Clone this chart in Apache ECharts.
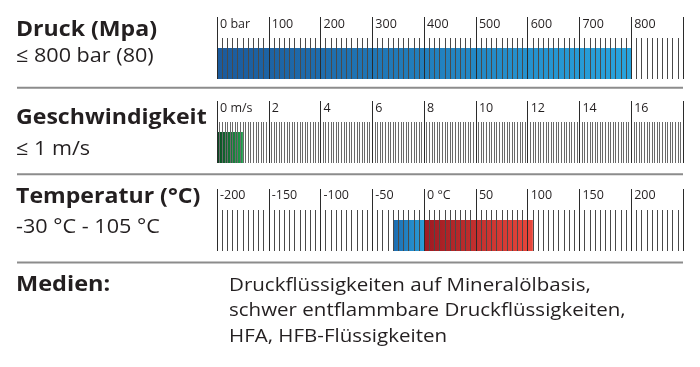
<!DOCTYPE html>
<html><head><meta charset="utf-8">
<script src="https://cdn.jsdelivr.net/npm/echarts@6/dist/echarts.min.js"></script>
<style>html,body{margin:0;padding:0;background:#fff}#c{width:700px;height:367px}</style>
</head><body><div id="c"></div><script>
const titles = ['Druck (Mpa)', 'Geschwindigkeit', 'Temperatur (°C)'];
const subtitles = ['≤ 800 bar (80)', '≤ 1 m/s', '-30 °C - 105 °C'];
const axisMin = [0, 0, -200];
const axisMax = [900, 18, 250];
const axisStep = [100, 2, 50];
const minorSplits = [10, 20, 10];
const zeroLabels = ['0 bar', '0 m/s', '0 °C'];
const pressureBar = [800];
const speedBar = [1];
const tempColdBar = [-30];
const tempHotBar = [105];
const mediaLabel = 'Medien:';
const mediaLines = ['Druckflüssigkeiten auf Mineralölbasis,', 'schwer entflammbare Druckflüssigkeiten,', 'HFA, HFB-Flüssigkeiten'];

const FONT = '"Open Sans", "Noto Sans", sans-serif';
const TXT = '#231f20';
const gridTops = [17, 101, 189];
const grids = gridTops.map(t => ({left: 217, width: 466, top: t, height: 62}));
const labelMargins = [54.5, 55, 55.5];
const minorColors = ['#4a4a4a', '#6a6a6a', '#4a4a4a'];
const xAxes = axisMin.map((mn, i) => ({
  type: 'value', gridIndex: i, min: mn, max: axisMax[i], interval: axisStep[i],
  position: 'bottom', z: 5,
  axisLine: {show: false},
  splitLine: {show: false}, minorSplitLine: {show: false},
  axisTick: {show: true, inside: true, length: 62, lineStyle: {color: '#2b2b2b', width: 1}},
  minorTick: {show: true, splitNumber: minorSplits[i], length: 41, lineStyle: {color: minorColors[i], width: 1}},
  axisLabel: {
    inside: true, margin: labelMargins[i], align: 'left', verticalAlign: 'middle', padding: [0, 0, 0, 3],
    fontSize: 12.5, fontFamily: FONT, color: TXT, showMaxLabel: false, showMinLabel: true,
    formatter: v => (v === 0 ? zeroLabels[i] : String(v))
  }
}));
const yAxes = axisMin.map((_, i) => ({type: 'category', gridIndex: i, data: ['bar', 'space'], show: false}));
const grad = (a, b) => new echarts.graphic.LinearGradient(0, 0, 1, 0, [{offset: 0, color: a}, {offset: 1, color: b}]);

const series = [
  {type: 'bar', xAxisIndex: 0, yAxisIndex: 0, barWidth: '100%', data: [pressureBar[0], '-'],
   itemStyle: {color: grad('#1b5a9c', '#28a4de')}, silent: true, animation: false},
  {type: 'bar', xAxisIndex: 1, yAxisIndex: 1, barWidth: '100%', data: [speedBar[0], '-'],
   itemStyle: {color: grad('#0b4a22', '#1f9d4b')}, silent: true, animation: false},
  {type: 'bar', xAxisIndex: 2, yAxisIndex: 2, barWidth: '100%', stack: 't', data: [tempColdBar[0], '-'],
   itemStyle: {color: grad('#1c6cb0', '#2a9ed8')}, silent: true, animation: false},
  {type: 'bar', xAxisIndex: 2, yAxisIndex: 2, barWidth: '100%', stack: 't', data: [tempHotBar[0], '-'],
   itemStyle: {color: grad('#9e1a22', '#e9473b')}, silent: true, animation: false}
];

const graphic = [];
const titleMid = [29.7, 117.7, 196.8];
const subMid = [55.8, 149.3, 227.5];
titles.forEach((t, i) => {
  graphic.push({type: 'text', x: 16, y: titleMid[i], scaleX: 1.05, style: {text: t, font: 'bold 22px ' + FONT, fill: TXT, verticalAlign: 'middle'}});
  graphic.push({type: 'text', x: 16, y: subMid[i], scaleX: 1.08, style: {text: subtitles[i], font: '20px ' + FONT, fill: TXT, verticalAlign: 'middle'}});
});
[87.7, 174.3, 262.5].forEach(y => {
  graphic.push({type: 'line', shape: {x1: 17, y1: y, x2: 683, y2: y}, style: {stroke: '#8c8c8c', lineWidth: 2}});
});
graphic.push({type: 'text', x: 16, y: 284.4, scaleX: 1.07, style: {text: mediaLabel, font: 'bold 22px ' + FONT, fill: TXT, verticalAlign: 'middle'}});
mediaLines.forEach((l, k) => {
  graphic.push({type: 'text', x: 229, y: 285.7 + k * 25.5, scaleX: 1.14, style: {text: l, font: '18px ' + FONT, fill: TXT, verticalAlign: 'middle'}});
});

const chart = echarts.init(document.getElementById('c'), null, {renderer: 'canvas'});
chart.setOption({animation: false, grid: grids, xAxis: xAxes, yAxis: yAxes, series: series, graphic: graphic});
</script></body></html>
